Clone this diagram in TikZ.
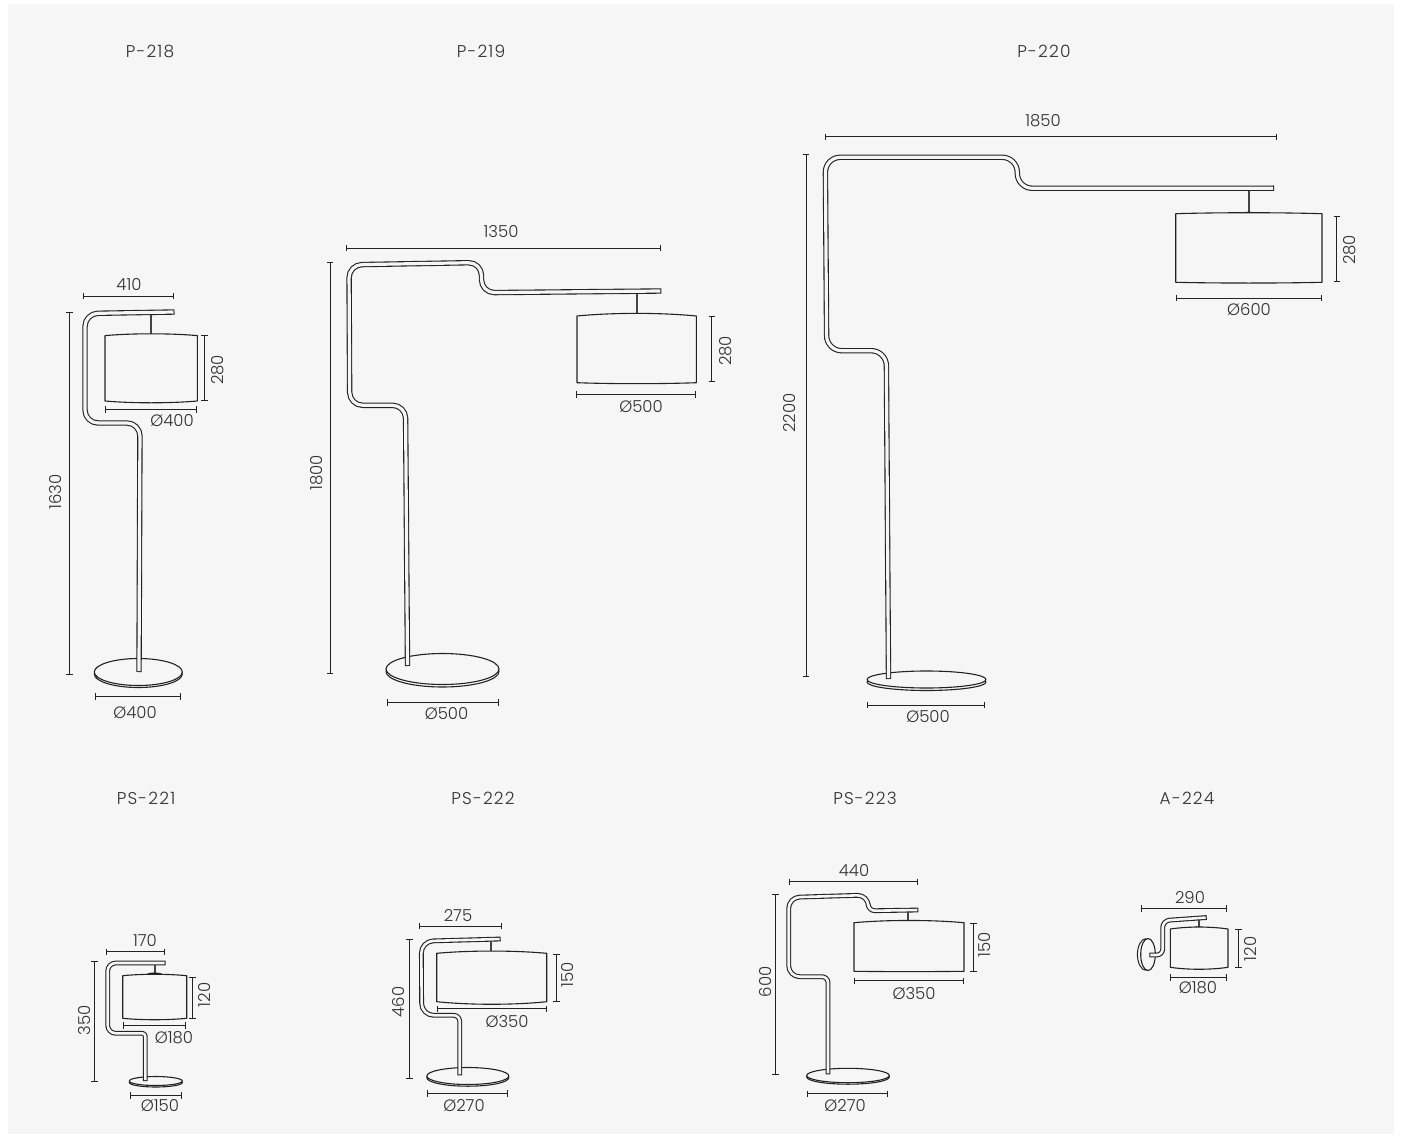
\documentclass[tikz,border=0pt]{standalone}
\usepackage{fontspec}
\setmainfont{Poppins Light}
\newfontfamily\titlefont{Poppins Light}[LetterSpace=7]
\definecolor{panel}{HTML}{F6F6F6}
\definecolor{ink}{HTML}{232323}
\definecolor{txt}{HTML}{303030}
\tikzset{
  tubeo/.style={draw=ink,line width=5.4pt,line join=round},
  tubei/.style={draw=panel,line width=3.2pt,line join=round,shorten >=1pt,shorten <=1pt},
  smallo/.style={draw=ink,line width=4.8pt,line join=round},
  smalli/.style={draw=panel,line width=2.6pt,line join=round,shorten >=1pt,shorten <=1pt},
  shadeln/.style={draw=ink,line width=1.1pt,line join=round,fill=panel},
  poleln/.style={draw=ink!85,line width=2.2pt},
  dimln/.style={draw=ink,line width=1pt},
  lblbase/.style={font=\fontsize{16.5}{16.5}\selectfont,text=txt,inner sep=0pt,anchor=center},
  lbl/.style={lblbase},
  ttl/.style={lblbase,font=\fontsize{17}{17}\titlefont},
  rlbl/.style={lblbase,rotate=90},
}
\newcommand\tube[1]{\draw[tubeo] #1; \draw[tubei] #1;}
\newcommand\stube[1]{\draw[smallo] #1; \draw[smalli] #1;}
\newcommand\dimH[3]{\draw[dimln] (#1,#3) -- (#2,#3) (#1,#3-3.2) -- (#1,#3+3.2) (#2,#3-3.2) -- (#2,#3+3.2);}
\newcommand\dimV[3]{\draw[dimln] (#1,#2) -- (#1,#3) (#1-3.2,#2) -- (#1+3.2,#2) (#1-3.2,#3) -- (#1+3.2,#3);}
% x1 x2 ytop-corner ybottom-corner topbulge botbulge
\newcommand\lampshade[6]{\draw[shadeln] (#1,#3) .. controls ({#1+0.3*(#2-#1)},#3-#5) and ({#2-0.3*(#2-#1)},#3-#5) .. (#2,#3) -- (#2,#4) .. controls ({#2-0.3*(#2-#1)},#4+#6) and ({#1+0.3*(#2-#1)},#4+#6) .. (#1,#4) -- cycle;}
% cx cy rx ry offset
\newcommand\base[5]{\draw[shadeln] (#1,#2+#5) ellipse[x radius=#3,y radius=#4]; \draw[shadeln] (#1,#2) ellipse[x radius=#3,y radius=#4];}
\begin{document}
\begin{tikzpicture}[x=1pt,y=-1pt]
\useasboundingbox (0,0) rectangle (1402,1142);
\fill[white] (0,0) rectangle (1402,1142);
\fill[panel] (8,4) rectangle (1394,1134);

% titles
\node[ttl] (t1) at (150,51) {P-218};
\node[ttl] (t2) at (481,51) {P-219};
\node[ttl] (t3) at (1044,51) {P-220};
\node[ttl] (t4) at (146,798) {PS-221};
\node[ttl] (t5) at (483,798) {PS-222};
\node[ttl] (t6) at (865,798) {PS-223};
\node[ttl] (t7) at (1187,798) {A-224};

% P-218
\base{138.3}{672}{44}{13.5}{2}
\tube{(139,672) [rounded corners=13pt] -- (140,423) -- (85,423) -- (85,313.5) -- (174.5,312)}
\draw[poleln] (151.3,314.5) -- (151.3,334);
\lampshade{105}{197.3}{335.6}{401}{2.4}{2.4}
\dimH{83.3}{173.3}{296}
\dimV{69.6}{312.7}{674}
\dimV{204.3}{335}{400.3}
\dimH{105.7}{196.3}{409.3}
\dimH{95.7}{180.3}{696.3}
\node[lbl] (a1) at (129,284.5) {410};
\node[rlbl] (a2) at (56,492) {1630};
\node[rlbl] (a3) at (217.3,370) {280};
\node[lbl] (a4) at (172,420.5) {Ø400};
\node[lbl] (a5) at (135,712.5) {Ø400};

% P-219
\base{442.5}{669}{56.5}{15.5}{2.5}
\tube{(407.5,666) [rounded corners=13pt] -- (405.5,405.3) -- (349.7,405.3) -- (349,264.8) -- (481.5,262.5) -- (481.5,292.7) -- (661.3,291)}
\draw[poleln] (636.7,293.7) -- (636.7,313.5);
\lampshade{577}{696.3}{316}{382.7}{3.5}{1.3}
\dimH{346.3}{660.3}{248}
\dimV{330}{262}{673}
\dimV{711.7}{316.3}{381.3}
\dimH{576.3}{695.7}{394.3}
\dimH{387}{498}{702.5}
\node[lbl] (b1) at (501,231.5) {1350};
\node[rlbl] (b2) at (317,473) {1800};
\node[rlbl] (b3) at (725.5,351) {280};
\node[lbl] (b4) at (641,406.5) {Ø500};
\node[lbl] (b5) at (446.5,713.5) {Ø500};

% P-220
\base{926.5}{679.5}{59.5}{8.5}{2.5}
\tube{(888.5,679) [rounded corners=15pt] -- (886.3,350.7) -- (826.7,350.7) -- (825.3,157.3) -- (1017.3,157.3) -- (1017.3,188.3) -- (1274,188.2)}
\draw[poleln] (1249,191) -- (1249,212);
\fill[ink] (1243,213.4) .. controls (1245,211) and (1253,211) .. (1255,213.4) -- cycle;
\lampshade{1175.7}{1322}{213.7}{282.3}{1.3}{1}
\dimH{825}{1276}{137}
\dimV{806}{155}{676}
\dimV{1336.7}{216.7}{281.3}
\dimH{1176.7}{1321.3}{298}
\dimH{867}{984}{705}
\node[lbl] (c1) at (1043,120.5) {1850};
\node[rlbl] (c2) at (789,413) {2200};
\node[rlbl] (c3) at (1350,250) {280};
\node[lbl] (c4) at (1249,309.5) {Ø600};
\node[lbl] (c5) at (928,716.5) {Ø500};

% PS-221
\base{155.8}{1081}{26.5}{4.5}{1.5}
\stube{(145.3,1081) [rounded corners=3pt] -- (145.3,1033.3) [rounded corners=8pt] -- (107.7,1033.3) -- (107.7,963) -- (165.7,963)}
\draw[poleln] (154.7,965) -- (154.7,973);
\fill[ink] (146,974.4) .. controls (149,971.8) and (160,971.8) .. (163,974.4) -- cycle;
\lampshade{122.7}{186.7}{975.7}{1018.3}{1.9}{1.9}
\dimH{106.7}{164.3}{951.7}
\dimV{94.3}{961.3}{1081.3}
\dimV{192.3}{977.7}{1018.3}
\dimH{123.3}{185.3}{1025.3}
\dimH{130.7}{181.3}{1095.3}
\node[lbl] (d1) at (145,941) {170};
\node[rlbl] (d2) at (85,1020) {350};
\node[rlbl] (d3) at (204,995) {120};
\node[lbl] (d4) at (174,1037.5) {Ø180};
\node[lbl] (d5) at (160,1105.5) {Ø150};

% PS-222
\base{467.8}{1076}{41}{8.5}{1.7}
\stube{(459.7,1075.3) [rounded corners=6pt] -- (459.7,1015.3) [rounded corners=12pt] -- (421.7,1015.3) -- (421.3,941.2) -- (500.7,939)}
\draw[poleln] (491,941) -- (491,951);
\lampshade{436.7}{546.7}{953.3}{1001.7}{3}{3.4}
\dimH{419.3}{501.7}{926}
\dimV{409.3}{939.3}{1078.3}
\dimV{556.3}{954.3}{1001.3}
\dimH{437.3}{546.3}{1008.7}
\dimH{427.7}{507.3}{1093.3}
\node[lbl] (e1) at (458,916) {275};
\node[rlbl] (e2) at (398,1002) {460};
\node[rlbl] (e3) at (568,975) {150};
\node[lbl] (e4) at (507,1021.5) {Ø350};
\node[lbl] (e5) at (464,1105.5) {Ø270};

% PS-223
\base{848}{1075.5}{41.3}{7.2}{1.5}
\stube{(828,1074.3) [rounded corners=6pt] -- (828,976.7) [rounded corners=11pt] -- (788.7,976.7) -- (788.7,897.4) -- (868.3,895) [rounded corners=6.5pt] -- (868.3,910.8) -- (918.3,910)}
\draw[poleln] (908.3,912) -- (908.3,920.5);
\lampshade{854}{964}{922.7}{971.3}{3}{0.4}
\dimH{789.3}{917.3}{881.7}
\dimV{775.3}{894.3}{1074}
\dimV{973.3}{923.3}{971}
\dimH{854.7}{963.3}{980.7}
\dimH{807.7}{887.3}{1093.7}
\node[lbl] (f1) at (854,871) {440};
\node[rlbl] (f2) at (765,982) {600};
\node[rlbl] (f3) at (985,945) {150};
\node[lbl] (f4) at (914,993.5) {Ø350};
\node[lbl] (f5) at (845,1105.5) {Ø270};

% A-224
\draw[ink,line width=1pt] (1146,970.3) arc[start angle=90,end angle=270,x radius=8.6,y radius=15.8];
\draw[shadeln] (1148,954.5) ellipse[x radius=7.3,y radius=16];
\stube{(1149.3,955) [rounded corners=6pt] -- (1162.7,955) [rounded corners=7pt] -- (1162.7,920.6) -- (1206.7,917.5)}
\draw[poleln] (1198.7,920) -- (1198.7,926.5);
\fill[ink] (1191,928) .. controls (1194,925.6) and (1203,925.6) .. (1206,928) -- cycle;
\lampshade{1170.3}{1228}{929}{967.3}{2.6}{2.6}
\dimH{1141.7}{1226.3}{908.3}
\dimV{1238.3}{929.3}{967.3}
\dimH{1170.7}{1226.7}{977.3}
\node[lbl] (g1) at (1190,897) {290};
\node[rlbl] (g3) at (1250,949) {120};
\node[lbl] (g4) at (1198,987.5) {Ø180};
\end{tikzpicture}
\end{document}
